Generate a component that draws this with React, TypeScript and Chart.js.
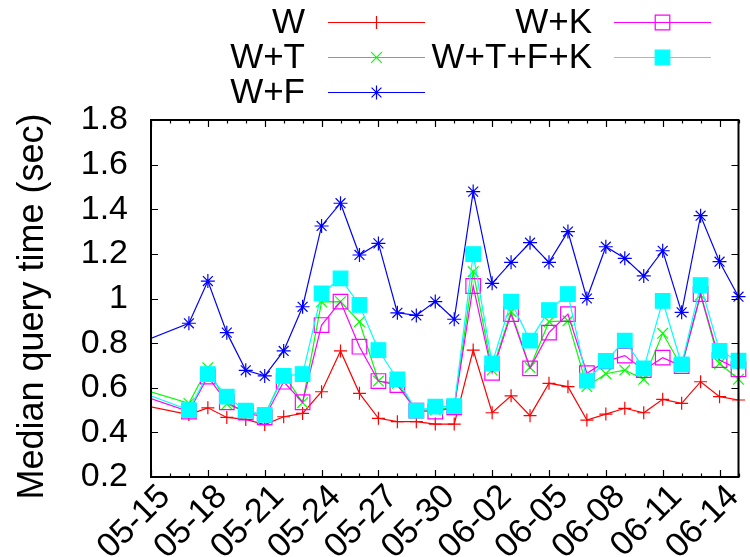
import React, { useEffect, useRef } from 'react';
import { Chart, registerables } from 'chart.js';

Chart.register(...registerables);

const FONT = '"Liberation Sans", Arial, Helvetica, sans-serif';

// Dates of the measurements (first one lies before the visible range and is clipped)
const dates = [
  '05-14', '05-17', '05-18', '05-19', '05-20', '05-21', '05-22', '05-23', '05-24', '05-25',
  '05-26', '05-27', '05-28', '05-29', '05-30', '05-31', '06-01', '06-02', '06-03', '06-04',
  '06-05', '06-06', '06-07', '06-08', '06-09', '06-10', '06-11', '06-12', '06-13', '06-14', '06-15',
];

const seriesNames = ['W', 'W+T', 'W+F', 'W+K', 'W+T+F+K'];

const valuesW = [
  0.532, 0.48, 0.51, 0.467, 0.458, 0.435, 0.47, 0.485, 0.582, 0.765,
  0.575, 0.463, 0.448, 0.448, 0.437, 0.437, 0.769, 0.488, 0.564, 0.475,
  0.62, 0.605, 0.455, 0.482, 0.508, 0.488, 0.548, 0.53, 0.627, 0.56, 0.545,
];
const valuesWT = [
  0.608, 0.53, 0.69, 0.527, 0.493, 0.478, 0.66, 0.533, 0.985, 0.986,
  0.896, 0.63, 0.62, 0.5, 0.5, 0.513, 1.12, 0.679, 0.941, 0.691,
  0.896, 0.9, 0.605, 0.663, 0.679, 0.638, 0.844, 0.694, 1.016, 0.709, 0.638,
];
const valuesWF = [
  0.787, 0.889, 1.078, 0.847, 0.678, 0.653, 0.765, 0.963, 1.325, 1.427,
  1.195, 1.247, 0.936, 0.924, 0.986, 0.907, 1.479, 1.068, 1.162, 1.25,
  1.162, 1.3, 1.0, 1.232, 1.18, 1.101, 1.214, 0.938, 1.371, 1.165, 1.008,
];
const valuesWK = [
  0.58, 0.493, 0.65, 0.535, 0.488, 0.467, 0.627, 0.535, 0.881, 0.986,
  0.784, 0.63, 0.612, 0.497, 0.493, 0.512, 1.056, 0.667, 0.93, 0.687,
  0.847, 0.93, 0.665, 0.718, 0.744, 0.679, 0.735, 0.697, 1.02, 0.724, 0.683,
];
const valuesWTFK = [
  0.595, 0.5, 0.661, 0.56, 0.497, 0.478, 0.653, 0.661, 1.023, 1.09,
  0.971, 0.769, 0.638, 0.497, 0.515, 0.518, 1.199, 0.709, 0.986, 0.811,
  0.948, 1.02, 0.632, 0.72, 0.811, 0.687, 0.989, 0.705, 1.06, 0.765, 0.721,
];

const xTickLabels = ['05-15', '05-18', '05-21', '05-24', '05-27', '05-30', '06-02', '06-05', '06-08', '06-11', '06-14'];
const xRangeLabels = ['05-15', '06-15'];
const yTickLabels = ['0.2', '0.4', '0.6', '0.8', '1', '1.2', '1.4', '1.6', '1.8'];
const yTitle = 'Median query time (sec)';

function dayIndex(s: string): number {
  const [m, d] = s.split('-').map(Number);
  return m === 5 ? d - 15 : d + 16;
}

const xMin = dayIndex(xRangeLabels[0]);
const xMax = dayIndex(xRangeLabels[1]);
const yMin = Number(yTickLabels[0]);
const yMax = Number(yTickLabels[yTickLabels.length - 1]);

function drawMarker(ctx: CanvasRenderingContext2D, style: string, x: number, y: number, r: number, color: string, filled: boolean) {
  ctx.save();
  ctx.strokeStyle = color;
  ctx.fillStyle = color;
  ctx.lineWidth = 1.2;
  ctx.beginPath();
  if (style === 'cross' || style === 'star') {
    ctx.moveTo(x - r, y); ctx.lineTo(x + r, y);
    ctx.moveTo(x, y - r); ctx.lineTo(x, y + r);
  }
  if (style === 'crossRot' || style === 'star') {
    const d = r * Math.SQRT1_2;
    ctx.moveTo(x - d, y - d); ctx.lineTo(x + d, y + d);
    ctx.moveTo(x - d, y + d); ctx.lineTo(x + d, y - d);
  }
  if (style === 'rect') {
    const s = r * Math.SQRT1_2;
    ctx.rect(x - s, y - s, 2 * s, 2 * s);
    if (filled) ctx.fill();
  }
  ctx.stroke();
  ctx.restore();
}

const frameAndLegend = {
  id: 'frameAndLegend',
  afterDatasetsDraw(chart: any) {
    const { ctx, chartArea, scales } = chart;
    const xs = scales.x;
    const ys = scales.y;
    ctx.save();
    // tick marks (inward, mirrored)
    ctx.strokeStyle = '#000';
    ctx.lineWidth = 1.2;
    ctx.beginPath();
    for (let d = xMin; d <= xMax; d++) {
      const px = Math.round(xs.getPixelForValue(d)) + 0.5;
      const major = xTickLabels.some((l) => dayIndex(l) === d);
      const len = major ? 7 : 3.5;
      ctx.moveTo(px, chartArea.bottom); ctx.lineTo(px, chartArea.bottom - len);
      ctx.moveTo(px, chartArea.top); ctx.lineTo(px, chartArea.top + len);
    }
    yTickLabels.forEach((l) => {
      const py = Math.round(ys.getPixelForValue(Number(l))) + 0.5;
      ctx.moveTo(chartArea.left, py); ctx.lineTo(chartArea.left + 7, py);
      ctx.moveTo(chartArea.right, py); ctx.lineTo(chartArea.right - 7, py);
    });
    ctx.stroke();
    // border
    ctx.lineWidth = 2;
    ctx.strokeStyle = '#000';
    ctx.strokeRect(chartArea.left, chartArea.top, chartArea.right - chartArea.left, chartArea.bottom - chartArea.top);

    // y axis title
    ctx.save();
    ctx.translate(43, (chartArea.top + chartArea.bottom) / 2 + 8);
    ctx.rotate(-Math.PI / 2);
    ctx.font = `36px ${FONT}`;
    ctx.fillStyle = '#000';
    ctx.textAlign = 'center';
    ctx.textBaseline = 'alphabetic';
    ctx.fillText(yTitle, 0, 0);
    ctx.restore();

    // legend
    const rows = [22.5, 57.5, 92.5];
    const cols = [
      { textRight: 305, lineL: 328, lineR: 425 },
      { textRight: 592, lineL: 614, lineR: 711 },
    ];
    ctx.font = `35px ${FONT}`;
    ctx.textAlign = 'right';
    ctx.textBaseline = 'middle';
    chart.data.datasets.forEach((ds: any, i: number) => {
      const col = cols[i < 3 ? 0 : 1];
      const y = rows[i < 3 ? i : i - 3];
      ctx.fillStyle = '#000';
      ctx.fillText(ds.label, col.textRight, y + 1);
      ctx.strokeStyle = ds.borderColor;
      ctx.lineWidth = 1.2;
      ctx.beginPath();
      ctx.moveTo(col.lineL, y);
      ctx.lineTo(col.lineR, y);
      ctx.stroke();
      drawMarker(ctx, ds.pointStyle, (col.lineL + col.lineR) / 2, y, ds.pointRadius, ds.pointBorderColor, ds.pointBackgroundColor !== 'rgba(0,0,0,0)');
    });
    ctx.restore();
  },
};

export default function App() {
  const canvasRef = useRef<HTMLCanvasElement | null>(null);

  useEffect(() => {
    const canvas = canvasRef.current;
    if (!canvas) return;
    const toPoints = (vals: number[]) => dates.map((d, i) => ({ x: dayIndex(d), y: vals[i] }));
    const clip = { left: 0, top: 0, right: 20, bottom: 0 };
    const mk = (i: number, vals: number[], color: string, style: string, radius: number, fill: string, order: number) => ({
      label: seriesNames[i],
      data: toPoints(vals),
      borderColor: color,
      backgroundColor: color,
      borderWidth: 1.2,
      pointStyle: style,
      pointRadius: radius,
      pointBorderWidth: 1.2,
      pointBorderColor: color,
      pointBackgroundColor: fill,
      tension: 0,
      order,
      clip,
    });

    Chart.defaults.font.family = FONT;
    const chart = new Chart(canvas, {
      type: 'line',
      data: {
        datasets: [
          mk(0, valuesW, '#ff0000', 'cross', 6.5, '#ff0000', 4),
          mk(1, valuesWT, '#00ff00', 'crossRot', 7.5, '#00ff00', 3),
          mk(2, valuesWF, '#0000ff', 'star', 7, '#0000ff', 2),
          mk(3, valuesWK, '#ff00ff', 'rect', 10.3, 'rgba(0,0,0,0)', 1),
          mk(4, valuesWTFK, '#00ffff', 'rect', 10.3, '#00ffff', 0),
        ] as any,
      },
      options: {
        animation: false,
        responsive: false,
        devicePixelRatio: 1,
        events: [],
        layout: { padding: { top: 120, right: 8, left: 0, bottom: 0 } },
        plugins: { legend: { display: false }, tooltip: { enabled: false } },
        scales: {
          x: {
            type: 'linear',
            min: xMin,
            max: xMax,
            grid: { display: false, drawTicks: false },
            border: { display: false },
            ticks: {
              stepSize: 1,
              autoSkip: false,
              maxRotation: 45,
              minRotation: 45,
              padding: 0,
              labelOffset: 14,
              color: '#000',
              font: { size: 34, family: FONT },
              callback: (v: any) => {
                const idx = xTickLabels.findIndex((l) => dayIndex(l) === v);
                return idx >= 0 ? xTickLabels[idx] : '';
              },
            },
            afterFit: (s: any) => {
              s.height = 80;
              s.paddingLeft = 0; s.paddingRight = 0; s.paddingTop = 0; s.paddingBottom = 0;
            },
          },
          y: {
            type: 'linear',
            min: yMin,
            max: yMax,
            grid: { display: false, drawTicks: false },
            border: { display: false },
            title: { display: false },
            ticks: {
              stepSize: 0.2,
              padding: 23,
              color: '#000',
              font: { size: 34, family: FONT },
              callback: (v: any) => {
                const idx = Math.round((Number(v) - yMin) / 0.2);
                return yTickLabels[idx] ?? '';
              },
            },
            afterFit: (s: any) => {
              s.width = 151;
              s.paddingLeft = 0; s.paddingRight = 0; s.paddingTop = 0; s.paddingBottom = 0;
            },
          },
        },
      } as any,
      plugins: [frameAndLegend],
    });
    return () => chart.destroy();
  }, []);

  return (
    <div style={{ position: 'absolute', left: 0, top: 0, width: 750, height: 557, background: '#fff' }}>
      <canvas ref={canvasRef} width={750} height={557} style={{ display: 'block' }} />
    </div>
  );
}
